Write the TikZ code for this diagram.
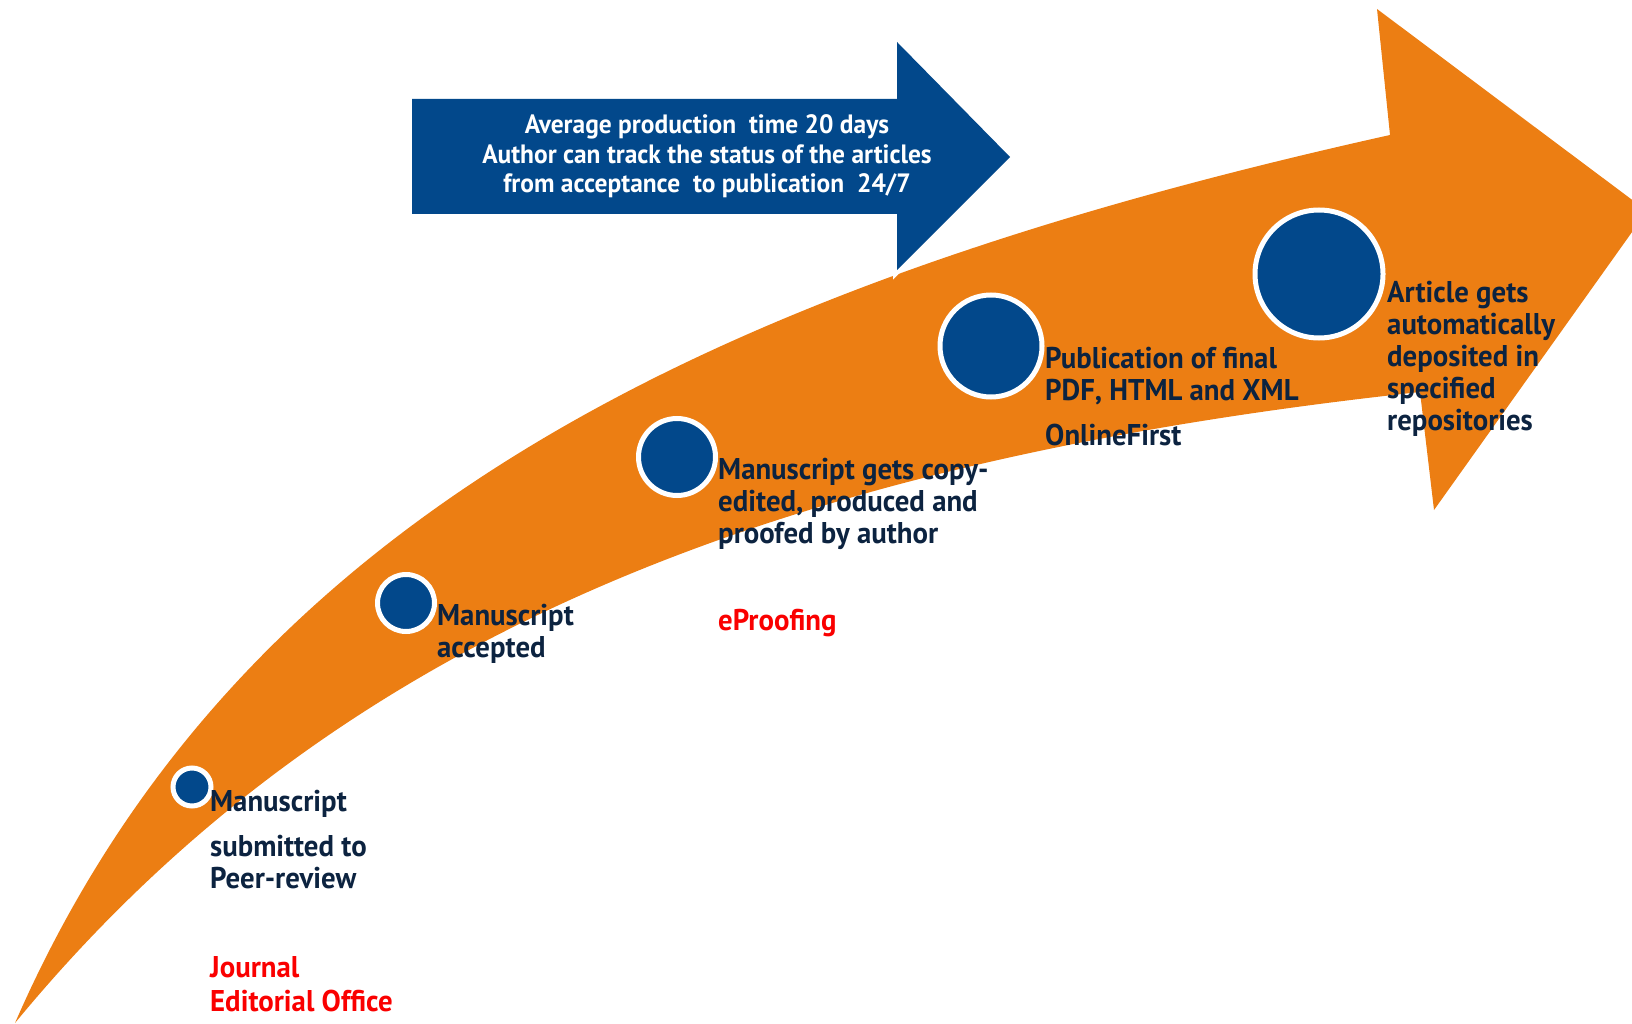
\documentclass[tikz,border=0pt]{standalone}
\usepackage{fontspec}
\newfontfamily\lblfont[FakeStretch=0.96]{PT Sans}
\definecolor{orng}{RGB}{236,126,19}
\definecolor{blu}{RGB}{2,72,139}
\definecolor{navy}{RGB}{12,35,64}
\definecolor{redtxt}{RGB}{250,0,0}
\tikzset{
  dot/.style={circle, inner sep=0pt, fill=blu, draw=white, line width=5pt},
  lbl/.style={font=\lblfont\bfseries\fontsize{30}{32}\selectfont, text=navy, align=left, anchor=base west, inner sep=0pt},
  redlbl/.style={lbl, text=redtxt, font=\lblfont\bfseries\fontsize{30}{34}\selectfont},
  wlbl/.style={font=\lblfont\bfseries\fontsize{26.5}{29.5}\selectfont, text=white, align=center, anchor=base, inner sep=0pt}
}
\begin{document}
\begin{tikzpicture}[x=1pt,y=-1pt]
\useasboundingbox (0,0) rectangle (1632,1024);
\clip (0,0) rectangle (1632,1024);
% orange curved arrow
\fill[orng] (15,1023) .. controls (235,519) and (707,287) .. (1390,135)
  -- (1377,9) -- (1647,211) -- (1434,510) -- (1420,392)
  .. controls (774,462) and (333,637) .. (15,1023) -- cycle;
% blue arrow
\draw[white, line width=8pt, line join=miter] (412,99) -- (897,99) -- (897,42) -- (1010,157) -- (897,270) -- (897,214) -- (412,214) -- cycle;
\fill[blu] (412,99) -- (897,99) -- (897,42) -- (1010,157) -- (897,270) -- (897,214) -- (412,214) -- cycle;
\node[wlbl] (info) at (707,193) {Average production\ \ time 20 days\\Author can track the status of the articles\\from acceptance\ \ to publication\ \ 24/7};
% milestones
\node[dot, minimum size=38pt] (c1) at (192,787) {};
\node[dot, minimum size=57pt] (c2) at (406,603) {};
\node[dot, minimum size=77pt] (c3) at (677,457) {};
\node[dot, minimum size=102pt] (c4) at (991,346) {};
\node[dot, minimum size=128pt] (c5) at (1319,274) {};
% labels (anchored at the baseline of the last line)
\node[lbl] (t1) at (210,888) {Manuscript\\[13pt]submitted to\\Peer-review};
\node[redlbl] (r1) at (210,1011) {Journal\\Editorial Office};
\node[lbl] (t2) at (437,657) {Manuscript\\accepted};
\node[lbl] (t3) at (718,543) {Manuscript gets copy-\\edited, produced and\\proofed by author};
\node[redlbl] (r3) at (718,630) {eProofing};
\node[lbl] (t4) at (1045,400) {Publication of final\\PDF, HTML and XML};
\node[lbl] (t4b) at (1045,445) {OnlineFirst};
\node[lbl] (t5) at (1387,430) {Article gets\\automatically\\deposited in\\specified\\repositories};
\end{tikzpicture}
\end{document}
